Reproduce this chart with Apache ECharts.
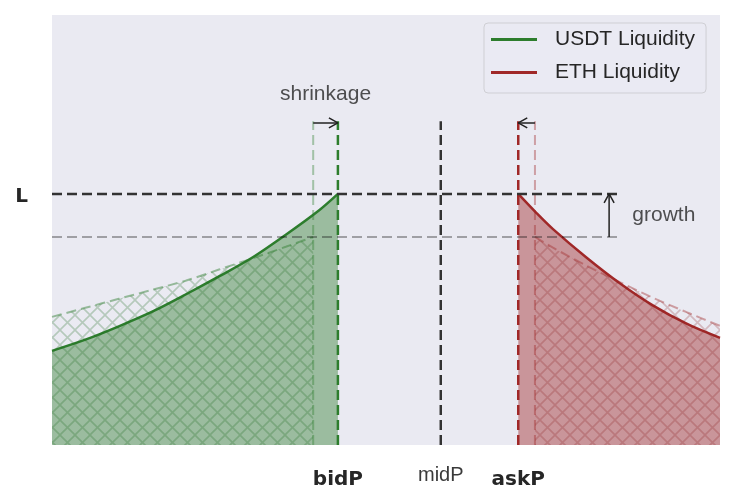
<!DOCTYPE html>
<html><head><meta charset="utf-8">
<script src="https://cdn.jsdelivr.net/npm/echarts@6/dist/echarts.min.js"></script>
<style>html,body{margin:0;padding:0;background:#fff}#c{width:742px;height:500px}</style>
</head><body><div id="c"></div><script>
// Price (x) and liquidity (y) in arbitrary units
const bidOld = 39.1, bidNew = 42.8, midP = 58.2, askNew = 69.8, askOld = 72.3;
const L = 58.4, Lold = 48.4;
const guideTop = 75.3;
const arrowY = 74.9;
const hLineEnd = 84.6;
const growthX = 83.4;

const usdtX = [0, 5, 10, 15, 20, 25, 30, 35, 40, 42.8];
const usdtY = [21.9, 24.5, 27.6, 31.0, 35.0, 39.2, 43.6, 48.9, 54.6, 58.4];
const usdtOldX = [0, 5, 10, 15, 20, 25, 30, 35, 39.1];
const usdtOldY = [29.8, 31.9, 34.0, 36.1, 38.2, 40.8, 43.4, 46.1, 48.4];
const ethX = [69.8, 72.5, 75, 80, 85, 90, 95, 100];
const ethY = [58.4, 54.0, 50.2, 43.6, 37.6, 32.4, 28.2, 24.9];
const ethOldX = [72.3, 75, 80, 85, 90, 95, 100];
const ethOldY = [48.4, 45.9, 41.7, 37.9, 34.2, 30.9, 27.7];

const tickValues = [bidNew, midP, askNew];
const tickLabels = ['bidP', 'midP', 'askP'];
const tickBold = [true, false, true];
const yTickValues = [L];
const yTickLabels = ['L'];

const GREEN = '#2d7d2d', RED = '#a02828', DARK = '#333333', INK = '#222222';
const GRID = { left: 52, right: 22, top: 15, bottom: 55 };
const W = 742, H = 500;
const X_MIN = 0, X_MAX = 100, Y_MIN = 0, Y_MAX = 100;
// data units per pixel (for sizing arrowheads in pixels)
const ux = (X_MAX - X_MIN) / (W - GRID.left - GRID.right);
const uy = (Y_MAX - Y_MIN) / (H - GRID.top - GRID.bottom);
const HEAD_LEN = 9, HEAD_HALF = 5;

const zip = (xs, ys) => xs.map((x, i) => [x, ys[i]]);
function hatch(color) {
  const s = 15, c = document.createElement('canvas');
  c.width = s; c.height = s;
  const g = c.getContext('2d');
  g.strokeStyle = color; g.lineWidth = 1.6;
  g.beginPath();
  g.moveTo(0, 0); g.lineTo(s, s);
  g.moveTo(s, 0); g.lineTo(0, s);
  g.stroke();
  return c;
}
const dash = [10, 5];
function guide(xs, ys, color, width) {
  return {
    type: 'line', data: zip(xs, ys), symbol: 'none', silent: true, z: 6,
    lineStyle: { color: color, width: width, type: dash }
  };
}
function seg(points) {
  return {
    type: 'line', data: points, symbol: 'none', silent: true, z: 8,
    lineStyle: { color: INK, width: 1.5, type: 'solid' }
  };
}
// arrow from (x0,y0) to tip (x1,y1), horizontal or vertical
function arrow(x0, y0, x1, y1) {
  const out = [seg([[x0, y0], [x1, y1]])];
  if (y0 === y1) {
    const s = Math.sign(x1 - x0);
    out.push(seg([[x1 - s * HEAD_LEN * ux, y1 + HEAD_HALF * uy], [x1, y1], [x1 - s * HEAD_LEN * ux, y1 - HEAD_HALF * uy]]));
  } else {
    const s = Math.sign(y1 - y0);
    out.push(seg([[x1 - HEAD_HALF * ux, y1 - s * HEAD_LEN * uy], [x1, y1], [x1 + HEAD_HALF * ux, y1 - s * HEAD_LEN * uy]]));
  }
  return out;
}

const chart = echarts.init(document.getElementById('c'));
chart.setOption({
  animation: false,
  backgroundColor: '#ffffff',
  grid: Object.assign({ show: true, backgroundColor: '#EAEAF2', borderWidth: 0 }, GRID),
  xAxis: {
    type: 'value', min: X_MIN, max: X_MAX,
    axisLine: { show: false }, axisTick: { show: false }, splitLine: { show: false },
    axisLabel: {
      customValues: tickValues, margin: 20,
      formatter: function (v) {
        let best = 0;
        tickValues.forEach((t, i) => { if (Math.abs(t - v) < Math.abs(tickValues[best] - v)) best = i; });
        return tickBold[best] ? '{b|' + tickLabels[best] + '}' : '{n|' + tickLabels[best] + '}';
      },
      rich: {
        b: { fontFamily: 'DejaVu Sans', fontWeight: 'bold', fontSize: 20, color: '#262626', padding: [5, 0, 0, 0] },
        n: { fontFamily: 'Liberation Sans', fontSize: 20, color: '#3a3a3a' }
      }
    }
  },
  yAxis: {
    type: 'value', min: Y_MIN, max: Y_MAX,
    axisLine: { show: false }, axisTick: { show: false }, splitLine: { show: false },
    axisLabel: {
      customValues: yTickValues, margin: 24,
      formatter: function () { return '{l|' + yTickLabels[0] + '}'; },
      rich: { l: { fontFamily: 'DejaVu Sans', fontWeight: 'bold', fontSize: 20, color: '#262626', padding: [6, 0, 0, 0] } }
    }
  },
  legend: {
    orient: 'vertical', left: 484, top: 23,
    padding: [6, 11, 10, 7], itemGap: 12,
    itemWidth: 46, itemHeight: 3,
    backgroundColor: 'rgba(234,234,242,0.8)', borderColor: '#cfcfd4', borderWidth: 1, borderRadius: 4,
    textStyle: { fontFamily: 'Liberation Sans', fontSize: 21, color: '#262626', padding: [0, 0, 0, 13] },
    data: [{ name: 'USDT Liquidity', icon: 'rect' }, { name: 'ETH Liquidity', icon: 'rect' }]
  },
  series: [
    {
      name: 'USDT Liquidity', type: 'line', data: zip(usdtX, usdtY), smooth: 0.3, symbol: 'none', z: 3,
      lineStyle: { color: GREEN, width: 2.5 }, itemStyle: { color: GREEN },
      areaStyle: { color: 'rgba(45,125,45,0.42)', opacity: 1, origin: 'start' }
    },
    {
      name: 'USDT old', type: 'line', data: zip(usdtOldX, usdtOldY), smooth: 0.3, symbol: 'none', z: 4,
      lineStyle: { color: 'rgba(45,125,45,0.45)', width: 2, type: dash },
      areaStyle: { color: { image: hatch('rgba(30,110,30,0.26)'), repeat: 'repeat' }, opacity: 1, origin: 'start' }
    },
    {
      name: 'ETH Liquidity', type: 'line', data: zip(ethX, ethY), smooth: 0.3, symbol: 'none', z: 3,
      lineStyle: { color: RED, width: 2.5 }, itemStyle: { color: RED },
      areaStyle: { color: 'rgba(160,40,40,0.44)', opacity: 1, origin: 'start' }
    },
    {
      name: 'ETH old', type: 'line', data: zip(ethOldX, ethOldY), smooth: 0.3, symbol: 'none', z: 4,
      lineStyle: { color: 'rgba(160,40,40,0.40)', width: 2, type: dash },
      areaStyle: { color: { image: hatch('rgba(140,30,30,0.24)'), repeat: 'repeat' }, opacity: 1, origin: 'start' }
    },
    guide([bidOld, bidOld], [0, guideTop], 'rgba(45,125,45,0.38)', 2),
    guide([bidNew, bidNew], [0, guideTop], GREEN, 2.5),
    guide([midP, midP], [0, guideTop], DARK, 2.5),
    guide([askNew, askNew], [0, guideTop], RED, 2.5),
    guide([askOld, askOld], [0, guideTop], 'rgba(160,40,40,0.38)', 2),
    guide([0, hLineEnd], [Lold, Lold], 'rgba(0,0,0,0.32)', 2),
    guide([0, hLineEnd], [L, L], DARK, 2.5),
    ...arrow(bidOld, arrowY, bidNew, arrowY),
    ...arrow(askOld, arrowY, askNew, arrowY),
    ...arrow(growthX, Lold, growthX, L),
    {
      type: 'scatter', silent: true, symbolSize: 1, z: 7,
      itemStyle: { color: 'rgba(0,0,0,0)' },
      label: { show: true, color: '#262626', fontSize: 21, fontFamily: 'Liberation Sans' },
      data: [
        { value: [(bidOld + bidNew) / 2, 81.5], label: { position: 'inside', formatter: 'shrinkage' } },
        { value: [86.8, (L + Lold) / 2], label: { position: 'right', distance: 0, formatter: 'growth' } }
      ]
    }
  ]
});
</script></body></html>
